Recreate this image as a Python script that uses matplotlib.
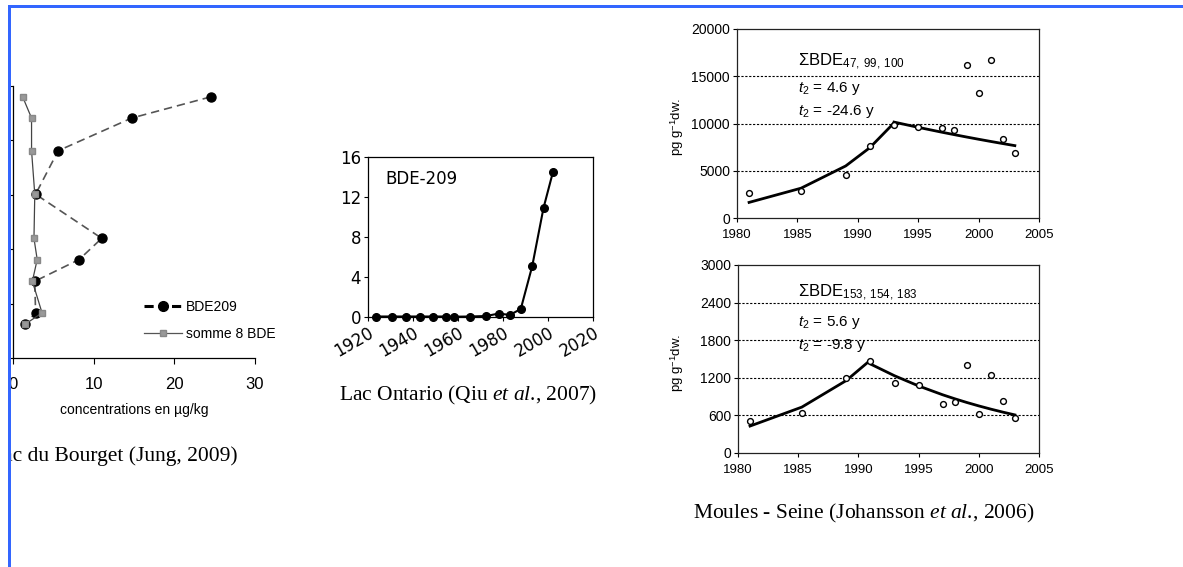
import matplotlib
matplotlib.use("Agg")
import matplotlib.pyplot as plt
import numpy as np
from matplotlib.lines import Line2D
from matplotlib.patches import Rectangle
from matplotlib.transforms import Bbox, TransformedBbox

W, H, DPI = 1183, 567, 100

plt.rcParams["mathtext.fontset"] = "custom"
plt.rcParams["mathtext.rm"] = "Liberation Serif"
plt.rcParams["mathtext.it"] = "Liberation Serif:italic"
plt.rcParams["mathtext.sf"] = "Liberation Sans:italic"

# --- Lac du Bourget core (Jung, 2009) -------------------------------------
bourget_depth = [2.0, 5.9, 11.9, 19.9, 28.0, 31.9, 35.9, 41.7, 43.8]
bourget_bde209 = [24.5, 14.7, 5.6, 2.8, 11.0, 8.2, 2.7, 2.8, 1.5]
bourget_sum8 = [1.2, 2.3, 2.3, 2.7, 2.6, 3.0, 2.4, 3.6, 1.5]
bourget_xticks = [0, 10, 20, 30]

# --- Lake Ontario core (Qiu et al., 2007) ---------------------------------
ontario_year = [1923.4, 1930.7, 1937.0, 1943.0, 1948.9, 1954.5, 1958.2,
                1965.5, 1972.6, 1978.2, 1983.0, 1987.9, 1993.0, 1998.0, 2002.2]
ontario_bde209 = [0.05, 0.05, 0.05, 0.05, 0.05, 0.05, 0.03,
                  0.05, 0.1, 0.35, 0.2, 0.8, 5.1, 10.9, 14.5]
ontario_xticks = [1920, 1940, 1960, 1980, 2000, 2020]
ontario_yticks = [0, 4, 8, 12, 16]

# --- Seine mussels (Johansson et al., 2006) -------------------------------
mussel_year = [1981, 1985.3, 1989, 1991, 1993, 1995, 1997, 1998, 1999,
               2000, 2001, 2002, 2003]
mussel_bde47_99_100 = [2650, 2900, 4600, 7650, 9850, 9600, 9490, 9350,
                       16200, 13240, 16670, 8390, 6830]
mussel_bde153_154_183 = [506, 639, 1199, 1465, 1124, 1081, 788, 815,
                         1412, 629, 1252, 836, 559]
mussel_xticks = [1980, 1985, 1990, 1995, 2000, 2005]
top_yticks = [0, 5000, 10000, 15000, 20000]
bottom_yticks = [0, 600, 1200, 1800, 2400, 3000]

# exponential trends: (start year, start value, doubling time, end year)
top_trends = [(1981, 1650, 4.6, 1993), (1993, 10150, -24.6, 2003)]
bottom_trends = [(1981, 430, 5.6, 1991), (1991, 1420, -9.8, 2003)]

fig = plt.figure(figsize=(W / DPI, H / DPI), dpi=DPI)
fig.patch.set_facecolor("white")


def axes_px(left, top, right, bottom):
    return fig.add_axes([left / W, 1 - bottom / H,
                         (right - left) / W, (bottom - top) / H])


def fx(px):
    return px / W


def fy(py):
    return 1 - py / H


# ===================== Lac du Bourget ======================================
ax1 = axes_px(13, 86, 255, 358)
ax1.plot(bourget_bde209, bourget_depth, ls=(0, (5, 3)), color="#555555",
         lw=1.2, marker="o", ms=6.5, mfc="black", mec="black", zorder=3,
         clip_on=False)
ax1.plot(bourget_sum8, bourget_depth, ls="-", color="#444444", lw=0.9,
         marker="s", ms=3.8, mfc="#999999", mec="#888888", zorder=4,
         clip_on=False)
ax1.set_xlim(0, 30)
ax1.set_ylim(50, 0)
ax1.set_xticks(bourget_xticks)
ax1.set_yticks(range(0, 51, 10))
ax1.set_yticklabels([])
for side in ("top", "right"):
    ax1.spines[side].set_visible(False)
for side in ("left", "bottom"):
    ax1.spines[side].set_linewidth(0.9)
ax1.tick_params(axis="x", length=4, pad=10, labelsize=12, direction="out")
ax1.tick_params(axis="y", length=3, direction="out")
for lab in ax1.get_xticklabels():
    lab.set_fontfamily("Liberation Sans")
ax1.set_xlabel("concentrations en µg/kg", fontsize=10,
               fontfamily="Liberation Sans")
ax1.xaxis.set_label_coords(0.5, -(403 - 358) / (358 - 86))

handles = [
    Line2D([], [], color="black", ls=(0, (3, 1.5)), lw=2.2, marker="o",
           ms=7, mfc="black", mec="black"),
    Line2D([], [], color="#555555", lw=0.9, marker="s", ms=3.8,
           mfc="#999999", mec="#888888"),
]
ax1.legend(handles, ["BDE209", "somme 8 BDE"], frameon=False,
           prop={"family": "Liberation Sans", "size": 10},
           loc="upper left", bbox_to_anchor=(fx(144), fy(300)),
           bbox_transform=fig.transFigure, borderpad=0, borderaxespad=0,
           handlelength=2.7, handletextpad=0.3, labelspacing=0.95)

cap1 = fig.text(fx(238), fy(461), "Lac du Bourget (Jung, 2009)",
                fontsize=15.5, family="Liberation Serif", ha="right",
                va="baseline")
cap1.set_clip_box(TransformedBbox(Bbox.from_extents(fx(11), 0, 1, 1),
                                  fig.transFigure))

# ===================== Lac Ontario =========================================
ax2 = axes_px(368, 157, 593, 317)
ax2.plot(ontario_year, ontario_bde209, color="black", lw=1.5, marker="o",
         ms=5.5, clip_on=False, zorder=3)
ax2.set_xlim(1920, 2020)
ax2.set_ylim(0, 16)
ax2.set_xticks(ontario_xticks)
ax2.set_yticks(ontario_yticks)
ax2.tick_params(labelsize=12, length=3, pad=2)
for lab in ax2.get_xticklabels():
    lab.set_rotation(30)
    lab.set_ha("right")
    lab.set_rotation_mode("anchor")
for sp in ax2.spines.values():
    sp.set_linewidth(0.9)
ax2.text(fx(385), fy(170), "BDE-209", fontsize=12, transform=fig.transFigure,
         va="top", ha="left")

fig.text(fx(468), fy(400), r"Lac Ontario (Qiu $\mathit{et\ al}$., 2007)",
         fontsize=15.5, family="Liberation Serif", ha="center", va="baseline")


# ===================== Seine mussels =======================================
def trend_line(ax, trends):
    for year0, value0, t2, year1 in trends:
        yrs = np.array([y for y in mussel_year if year0 <= y <= year1])
        ax.plot(yrs, value0 * 2 ** ((yrs - year0) / t2), color="black",
                lw=2, zorder=3)


def mussel_panel(box, values, yticks, trends, title, lines, text_y):
    ax = axes_px(*box)
    ax.set_xlim(1980, 2005)
    ax.set_ylim(yticks[0], yticks[-1])
    ax.set_xticks(mussel_xticks)
    ax.set_yticks(yticks)
    for v in yticks[1:-1]:
        ax.axhline(v, color="black", lw=0.8, ls=(0, (2, 1.5)), zorder=1)
    trend_line(ax, trends)
    ax.plot(mussel_year, values, ls="none", marker="o", ms=4.2,
            mfc="white", mec="black", mew=1.0, zorder=4, clip_on=False)
    ax.tick_params(axis="x", labelsize=9.5, length=3, pad=5)
    ax.tick_params(axis="y", labelsize=10, length=3, pad=2)
    for lab in ax.get_xticklabels() + ax.get_yticklabels():
        lab.set_fontfamily("Liberation Sans")
    for sp in ax.spines.values():
        sp.set_linewidth(0.9)
        sp.set_color("#222222")
    ax.text(fx(798), fy(text_y[0]), title, fontsize=12,
            family="Liberation Sans", transform=fig.transFigure,
            va="baseline")
    for s, yy in zip(lines, text_y[1:]):
        ax.text(fx(798), fy(yy), s, fontsize=11, family="Liberation Sans",
                transform=fig.transFigure, va="baseline")
    return ax


mussel_panel((737, 29, 1039, 218), mussel_bde47_99_100, top_yticks,
             top_trends, r"ΣBDE$_{\mathregular{47,\ 99,\ 100}}$",
             [r"$\mathsf{t}_{\mathregular{2}}$ = 4.6 y",
              r"$\mathsf{t}_{\mathregular{2}}$ = -24.6 y"],
             (65, 92, 115))
mussel_panel((738, 265, 1039, 453), mussel_bde153_154_183, bottom_yticks,
             bottom_trends, r"ΣBDE$_{\mathregular{153,\ 154,\ 183}}$",
             [r"$\mathsf{t}_{\mathregular{2}}$ = 5.6 y",
              r"$\mathsf{t}_{\mathregular{2}}$ = -9.8 y"],
             (296, 326, 349))

for yc in (127, 363):
    fig.text(fx(677), fy(yc), r"pg g$^{\mathregular{-1}}$dw.", fontsize=9.5,
             family="Liberation Sans", rotation=90, ha="center", va="center")

fig.text(fx(864), fy(518),
         r"Moules - Seine (Johansson $\mathit{et\ al}$., 2006)",
         fontsize=15.5, family="Liberation Serif", ha="center", va="baseline")

# ===================== blue page frame =====================================
frame_blue = "#3366ff"
fig.add_artist(Rectangle((fx(8), fy(7.5)), 1 - fx(8), 2.5 / H,
                         transform=fig.transFigure, color=frame_blue,
                         zorder=20, lw=0))
fig.add_artist(Rectangle((fx(8), 0), 3 / W, fy(5),
                         transform=fig.transFigure, color=frame_blue,
                         zorder=20, lw=0))

fig.savefig("out.png", dpi=DPI, facecolor="white")
